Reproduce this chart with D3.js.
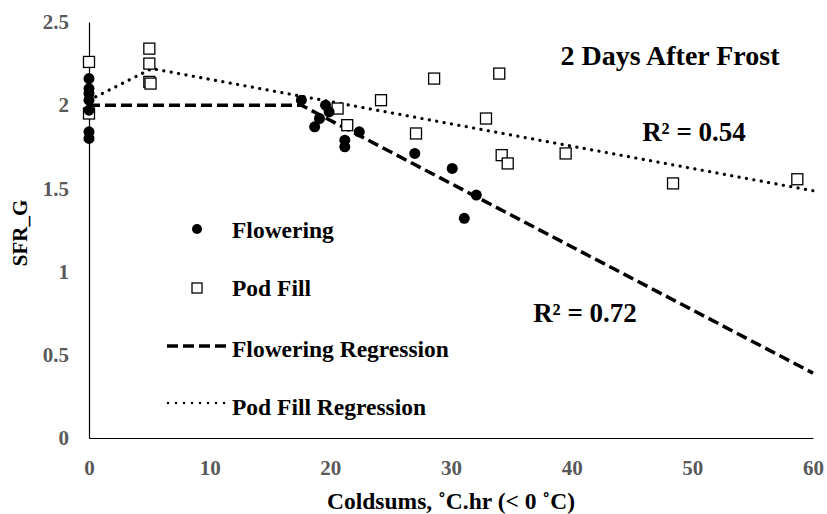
<!DOCTYPE html>
<html><head><meta charset="utf-8">
<script src="https://cdn.jsdelivr.net/npm/d3@7"></script>
<style>
html,body{margin:0;padding:0;background:#fff;}
text{font-family:"Liberation Serif","Times New Roman",serif;font-weight:bold;}
</style></head>
<body>
<svg id="chart" width="827" height="514"></svg>
<script>
// ---- data ----
const flowX = [0,0,0,0,0,0,0,17.6,18.7,19.1,19.6,19.9,21.2,21.2,22.4,27.0,30.1,31.1,32.1];
const flowY = [2.16,2.10,2.07,2.03,1.97,1.84,1.80,2.03,1.87,1.92,2.00,1.96,1.79,1.75,1.84,1.71,1.62,1.32,1.46];
const podX = [0,0,5,5,5,5.1,20.6,21.4,24.2,27.1,28.6,32.9,34.0,34.2,34.7,39.5,48.4,58.7];
const podY = [2.26,1.95,2.34,2.25,2.14,2.13,1.98,1.88,2.03,1.83,2.16,1.92,2.19,1.70,1.65,1.71,1.53,1.555];
const flowFitX = [0,17.6,60];
const flowFitY = [2.0,2.0,0.39];
const podFitX = [0,5.2,60];
const podFitY = [2.03,2.22,1.486];
const xTicks = [0,10,20,30,40,50,60];
const yTicks = [0,0.5,1,1.5,2,2.5];
const legendLabels = ["Flowering","Pod Fill","Flowering Regression","Pod Fill Regression"];
const titleText = "2 Days After Frost";
const r2Labels = ["R² = 0.54","R² = 0.72"];

const svg = d3.select("#chart");
const x = d3.scaleLinear().domain([0,60]).range([89,813]);
const y = d3.scaleLinear().domain([0,2.5]).range([438,22]);

// axes
const xAxis = svg.append("g").attr("transform","translate(0,438)")
  .call(d3.axisBottom(x).tickValues(xTicks).tickSize(0).tickPadding(22).tickFormat(d3.format("d")));
const yAxis = svg.append("g").attr("transform","translate(89,0)")
  .call(d3.axisLeft(y).tickValues(yTicks).tickSize(0).tickPadding(20).tickFormat(d=>String(d)));
[xAxis,yAxis].forEach(g=>{
  g.select(".domain").attr("stroke","#000").attr("stroke-width",1.2);
  g.selectAll("text").attr("fill","#595959").style("font-size","21px")
   .style("font-family","'Liberation Serif',serif").style("font-weight","bold");
});

// regression lines
const line = d3.line().x(d=>x(d[0])).y(d=>y(d[1]));
svg.append("path").datum(flowFitX.map((v,i)=>[v,flowFitY[i]]))
  .attr("d",line).attr("fill","none").attr("stroke","#000")
  .attr("stroke-width",3.5).attr("stroke-dasharray","11,5");
svg.append("path").datum(podFitX.map((v,i)=>[v,podFitY[i]]))
  .attr("d",line).attr("fill","none").attr("stroke","#000")
  .attr("stroke-width",3.2).attr("stroke-linecap","round").attr("stroke-dasharray","0.1,7.4");

// points
svg.append("g").selectAll("rect").data(podX.map((v,i)=>[v,podY[i]])).join("rect")
  .attr("x",d=>x(d[0])-5.5).attr("y",d=>y(d[1])-5.5).attr("width",11).attr("height",11)
  .attr("fill","#fff").attr("stroke","#000").attr("stroke-width",1.3);
svg.append("g").selectAll("circle").data(flowX.map((v,i)=>[v,flowY[i]])).join("circle")
  .attr("cx",d=>x(d[0])).attr("cy",d=>y(d[1])).attr("r",5.5).attr("fill","#000");

// legend
const lg = svg.append("g");
lg.append("circle").attr("cx",197).attr("cy",229).attr("r",5).attr("fill","#000");
lg.append("rect").attr("x",192).attr("y",283).attr("width",10).attr("height",10)
  .attr("fill","#fff").attr("stroke","#000").attr("stroke-width",1.3);
lg.append("line").attr("x1",167).attr("x2",227).attr("y1",346).attr("y2",346)
  .attr("stroke","#000").attr("stroke-width",3.5).attr("stroke-dasharray","11,5");
lg.append("line").attr("x1",168).attr("x2",227).attr("y1",403).attr("y2",403)
  .attr("stroke","#000").attr("stroke-width",2.4).attr("stroke-linecap","round").attr("stroke-dasharray","0.1,7.9");
const lgY = [230,288,349,407];
lg.selectAll("text").data(legendLabels).join("text")
  .attr("x",232).attr("y",(d,i)=>lgY[i]).attr("dy","0.35em")
  .style("font-size","23.5px").attr("fill","#000").text(d=>d);

// title and R2
svg.append("text").attr("x",670).attr("y",55).attr("dy","0.35em").attr("text-anchor","middle")
  .style("font-size","28px").text(titleText);
svg.append("text").attr("x",694).attr("y",132).attr("dy","0.35em").attr("text-anchor","middle")
  .style("font-size","27px").text(r2Labels[0]);
svg.append("text").attr("x",585).attr("y",313).attr("dy","0.35em").attr("text-anchor","middle")
  .style("font-size","27px").text(r2Labels[1]);

// axis titles
svg.append("text").attr("x",451).attr("y",501).attr("dy","0.35em").attr("text-anchor","middle")
  .style("font-size","23.5px").text("Coldsums, ˚C.hr (< 0 ˚C)");
svg.append("text").attr("transform","translate(20,233) rotate(-90)").attr("dy","0.35em")
  .attr("text-anchor","middle").style("font-size","21px").text("SFR_G");
</script>
</body></html>
